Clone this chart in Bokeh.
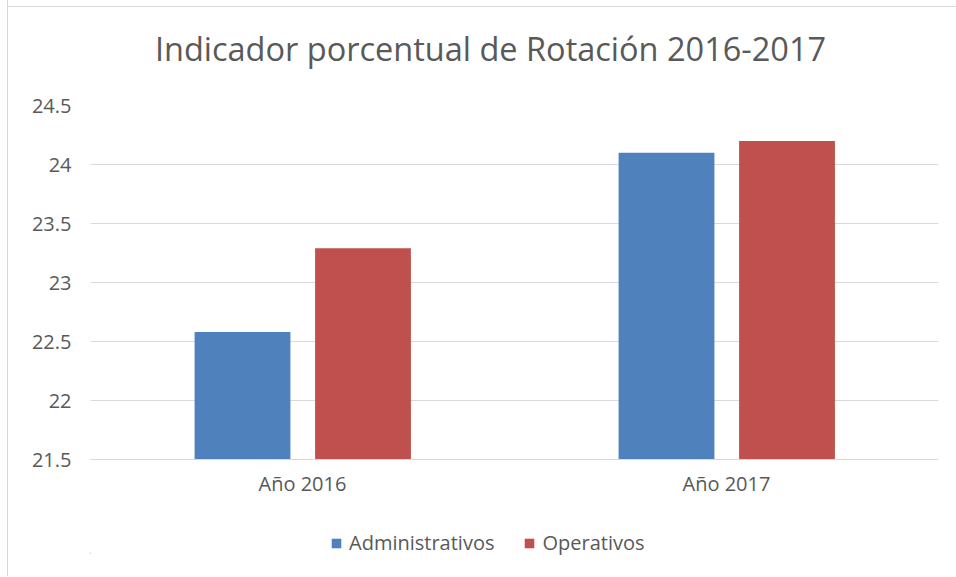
from bokeh.plotting import figure
from bokeh.layouts import column
from bokeh.models import (FactorRange, Range1d, ColumnDataSource, Legend, LegendItem,
                          CustomJSTickFormatter, FixedTicker, Label)
from bokeh.transform import dodge
from bokeh.embed import file_html
from bokeh.resources import INLINE

categories = ["Año 2016", "Año 2017"]
administrativos = [22.58, 24.1]
operativos = [23.29, 24.2]
y_ticks = [21.5, 22, 22.5, 23, 23.5, 24, 24.5]
title_text = "Indicador porcentual de Rotación 2016-2017"
series_names = ["Administrativos", "Operativos"]

TEXT = "#595959"
GRID = "#d9d9d9"
FONT = "Open Sans"
BLUE = "#4f81bd"
RED = "#c0504d"

source = ColumnDataSource(dict(cat=categories, adm=administrativos, ope=operativos))

LEFT_LINE = "linear-gradient(#d9d9d9,#d9d9d9) 7px 0 / 1px 100% no-repeat"
TOP_LINE = "linear-gradient(#d9d9d9,#d9d9d9) 7px 6px / 100% 1px no-repeat"


def strip(height):
    f = figure(width=956, height=height, x_range=Range1d(90, 938), y_range=Range1d(0, height),
               output_backend="svg", toolbar_location=None,
               x_axis_location=None, y_axis_location=None,
               min_border_left=90, min_border_right=18, min_border_top=0, min_border_bottom=0)
    f.grid.grid_line_color = None
    f.outline_line_color = None
    f.background_fill_alpha = 0
    f.border_fill_alpha = 0
    return f


# ---------- title strip ----------
p0 = strip(80)
p0.styles = {"background": LEFT_LINE + ", " + TOP_LINE + ", white"}
p0.add_layout(Label(x=490, y=32, text=title_text, text_align="center", text_baseline="alphabetic",
                    text_font=FONT, text_font_size="32.5px", text_color=TEXT))

# ---------- main chart ----------
p = figure(
    width=956, height=435,
    x_range=FactorRange(factors=categories, range_padding=0),
    y_range=Range1d(21.5, 24.5),
    output_backend="svg", toolbar_location=None,
    min_border_left=90, min_border_right=18, min_border_top=25, min_border_bottom=56,
)
p.styles = {"background": LEFT_LINE + ", white"}
p.outline_line_color = None
p.background_fill_color = "white"
p.border_fill_alpha = 0

p.vbar(x=dodge("cat", -0.1415, range=p.x_range), top="adm", bottom=21.5, width=0.226,
       source=source, fill_color=BLUE, line_color=None)
p.vbar(x=dodge("cat", 0.1427, range=p.x_range), top="ope", bottom=21.5, width=0.226,
       source=source, fill_color=RED, line_color=None)

p.xgrid.grid_line_color = None
p.ygrid.grid_line_color = GRID
p.ygrid.grid_line_width = 1
p.yaxis.ticker = FixedTicker(ticks=y_ticks)
p.yaxis.formatter = CustomJSTickFormatter(code="return tick.toString();")
p.yaxis.axis_line_color = None
p.yaxis.major_tick_line_color = None
p.yaxis.minor_tick_line_color = None
p.yaxis.major_label_standoff = 13
p.yaxis.major_label_text_font = FONT
p.yaxis.major_label_text_font_size = "20px"
p.yaxis.major_label_text_color = TEXT

p.xaxis.axis_line_color = GRID
p.xaxis.major_tick_line_color = None
p.xaxis.minor_tick_line_color = None
p.xaxis.major_label_standoff = 4
p.xaxis.major_label_text_font = FONT
p.xaxis.major_label_text_font_size = "20px"
p.xaxis.major_label_text_color = TEXT

# ---------- legend strip ----------
p2 = strip(61)
p2.styles = {"background": LEFT_LINE + ", white"}
# swatch renderers: their bars fall left of this strip's visible x-range, so only
# the legend swatches are seen
l1 = p2.vbar(x="adm", top="ope", bottom="adm", width=0.2, source=source,
             fill_color=BLUE, line_color=None)
l2 = p2.vbar(x="ope", top="ope", bottom="adm", width=0.2, source=source,
             fill_color=RED, line_color=None)

legend = Legend(items=[LegendItem(label=series_names[0], renderers=[l1]),
                       LegendItem(label=series_names[1], renderers=[l2])],
                location=(240, 20), orientation="horizontal")
legend.glyph_width = 12
legend.glyph_height = 12
legend.label_standoff = 7
legend.spacing = 29
legend.padding = 0
legend.margin = 0
legend.border_line_color = None
legend.background_fill_alpha = 0
legend.label_text_font = FONT
legend.label_text_font_size = "20px"
legend.label_text_color = TEXT
p2.add_layout(legend, "center")

layout = column(p0, p, p2, spacing=0)
open("out.html", "w").write(file_html(layout, INLINE))
